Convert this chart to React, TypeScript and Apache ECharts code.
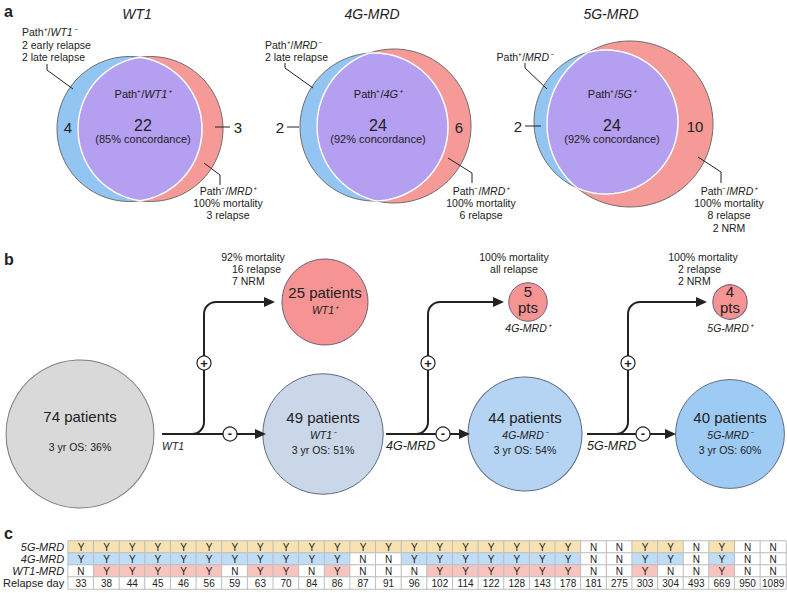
import React, { useEffect, useRef } from 'react';
import * as echarts from 'echarts';

const FONT = '"Liberation Sans", Arial, Helvetica, sans-serif';
const INK = '#222';

// ---------- Panel a data ----------
const vennTitles = ['WT1', '4G-MRD', '5G-MRD'];
const vennTags = ['WT1', '4G', '5G'];
const vennPathOnly = [4, 2, 2];
const vennBoth = [22, 24, 24];
const vennMrdOnly = [3, 6, 10];
const vennConcordance = [85, 92, 92];
const pathOnlyHeads = ['WT1', 'MRD', 'MRD'];
const pathOnlyNotes = [['2 early relapse', '2 late relapse'], ['2 late relapse'], []];
const mrdOnlyNotes = [
  ['100% mortality', '3 relapse'],
  ['100% mortality', '6 relapse'],
  ['100% mortality', '8 relapse', '2 NRM'],
];

// ---------- Panel b data ----------
const testNames = ['WT1', '4G-MRD', '5G-MRD'];
const stemPatients = [74, 49, 44, 40];
const stemOS = [36, 51, 54, 60];
const stemTags = ['', 'WT1', '4G-MRD', '5G-MRD'];
const posPatients = [25, 5, 4];
const posTags = ['WT1', '4G-MRD', '5G-MRD'];
const posNotes = [
  ['92% mortality', '16 relapse', '7 NRM'],
  ['100% mortality', 'all relapse'],
  ['100% mortality', '2 relapse', '2 NRM'],
];

// ---------- Panel c data ----------
const rowNames = ['5G-MRD', '4G-MRD', 'WT1-MRD', 'Relapse day'];
const relapseDays = [33, 38, 44, 45, 46, 56, 59, 63, 70, 84, 86, 87, 91, 96, 102, 114, 122, 128, 143, 178, 181, 275, 303, 304, 493, 669, 950, 1089];
const mrd5G = ['Y', 'Y', 'Y', 'Y', 'Y', 'Y', 'Y', 'Y', 'Y', 'Y', 'Y', 'Y', 'Y', 'Y', 'Y', 'Y', 'Y', 'Y', 'Y', 'Y', 'N', 'N', 'Y', 'Y', 'N', 'Y', 'N', 'N'];
const mrd4G = ['Y', 'Y', 'Y', 'Y', 'Y', 'Y', 'Y', 'Y', 'Y', 'Y', 'Y', 'N', 'N', 'Y', 'Y', 'Y', 'Y', 'Y', 'Y', 'Y', 'N', 'N', 'Y', 'Y', 'N', 'Y', 'N', 'N'];
const mrdWT1 = ['N', 'Y', 'Y', 'Y', 'Y', 'Y', 'N', 'Y', 'Y', 'N', 'Y', 'N', 'N', 'N', 'Y', 'Y', 'Y', 'Y', 'Y', 'Y', 'N', 'N', 'Y', 'N', 'N', 'Y', 'N', 'N'];

// ---------- layout / styles ----------
const BLUE = '#93c5f3';
const RED = '#f69a98';
const PURPLE = '#b59ff1';
const OUTLINE = '#6e6e6e';

const vennLayout = [
  {
    blue: [129.5, 129, 72.5], red: [150.5, 129, 72.5], title: [137, 14], cx: 143,
    only: [68, 127], onlyLine: null as null | number[], mrd: [238, 127], mrdLine: [215, 230] as null | number[],
    ul: { x: 22, align: 'left' }, leadUL: [[47, 64], [47, 70], [73, 89]],
    leadLR: [[204, 163], [220, 175], [220, 185]], lrX: 228,
  },
  {
    blue: [374, 127, 74], red: [394, 126, 77], title: [372, 14], cx: 378,
    only: [280, 127], onlyLine: [287, 299], mrd: [459, 127], mrdLine: null,
    ul: { x: 265, align: 'left' }, leadUL: [[285, 63], [285, 68], [313, 88]],
    leadLR: [[448, 158], [472, 173], [472, 183]], lrX: 481,
  },
  {
    blue: [606, 122, 72], red: [630, 124, 83], title: [611, 14], cx: 612,
    only: [518, 126], onlyLine: [525, 541], mrd: [695, 126], mrdLine: null,
    ul: { x: 553, align: 'right' }, leadUL: [[525, 63], [525, 68], [547, 89]],
    leadLR: [[698, 157], [721, 172], [721, 183]], lrX: 729,
  },
];

const K = 8.6; // px of radius per sqrt(patient)
const BY = 434;
const TY = 302;
const stemX = [80, 323, 525, 730];
const posX = [325, 528, 730];
const stemColors = ['#d9d9d9', '#c9d7e9', '#b5d3f2', '#9ecbf4'];
const POS_COLOR = '#f69494';
const junctions = [
  { x0: 162, xv: 204, minusX: 230, endB: 266, endT: 275, lab: 162, labSize: 10.5 },
  { x0: 386, xv: 428, minusX: 443, endB: 470, endT: 504, lab: 386, labSize: 12.5 },
  { x0: 587, xv: 628, minusX: 643, endB: 676, endT: 707, lab: 587, labSize: 12.5 },
];
const noteAnchors = [
  { cx: 253, lx: 232 },
  { cx: 514, lx: -1 },
  { cx: 703, lx: 678 },
];
const yesColors = ['#f8e2b2', '#bfddf6', '#f7c4bf'];

function txt(x: number, y: number, text: string, o: any = {}) {
  return {
    type: 'text', x, y, z: 20, silent: true,
    style: {
      text, fill: INK, fontFamily: FONT, fontSize: o.size ?? 10.5,
      fontStyle: o.italic ? 'italic' : 'normal', fontWeight: o.bold ? 'bold' : 'normal',
      align: o.align ?? 'center', verticalAlign: 'middle',
      rich: {
        i: { fontStyle: 'italic', fontSize: o.size ?? 10.5, fontFamily: FONT, fill: INK },
      },
    },
  };
}
function pl(points: number[][], w = 1, z = 15) {
  return { type: 'polyline', z, silent: true, shape: { points }, style: { stroke: INK, lineWidth: w, fill: null } };
}
function lens(A: number[], B: number[]) {
  const [ax, ay, ra] = A; const [bx, by, rb] = B;
  const dx = bx - ax, dy = by - ay; const d = Math.hypot(dx, dy);
  const phi = Math.atan2(dy, dx);
  const a = (ra * ra - rb * rb + d * d) / (2 * d);
  const alpha = Math.acos(Math.max(-1, Math.min(1, a / ra)));
  const beta = Math.acos(Math.max(-1, Math.min(1, (d - a) / rb)));
  const pts: number[][] = [];
  const N = 80;
  for (let k = 0; k <= N; k++) {
    const t = phi - alpha + (2 * alpha * k) / N;
    pts.push([ax + ra * Math.cos(t), ay + ra * Math.sin(t)]);
  }
  for (let k = 0; k <= N; k++) {
    const t = phi + Math.PI - beta + (2 * beta * k) / N;
    pts.push([bx + rb * Math.cos(t), by + rb * Math.sin(t)]);
  }
  return pts;
}

function buildGraphics() {
  const g: any[] = [];
  g.push(txt(4, 11, 'a', { size: 16, bold: true, align: 'left' }));
  g.push(txt(4, 259, 'b', { size: 16, bold: true, align: 'left' }));
  g.push(txt(4, 533, 'c', { size: 16, bold: true, align: 'left' }));

  vennLayout.forEach((L, i) => {
    const [bx, by, br] = L.blue; const [rx, ry, rr] = L.red;
    g.push({ type: 'circle', z: 5, silent: true, shape: { cx: bx, cy: by, r: br }, style: { fill: BLUE, stroke: OUTLINE, lineWidth: 1 } });
    g.push({ type: 'circle', z: 6, silent: true, shape: { cx: rx, cy: ry, r: rr }, style: { fill: RED, stroke: OUTLINE, lineWidth: 1 } });
    g.push({ type: 'polygon', z: 7, silent: true, shape: { points: lens(L.blue, L.red) }, style: { fill: PURPLE, stroke: '#ffffff', lineWidth: 1.5 } });
    g.push(txt(L.title[0], L.title[1], vennTitles[i], { size: 14, italic: true }));
    g.push(txt(L.cx, 94, `Path⁺/{i|${vennTags[i]}⁺}`, { size: 11 }));
    g.push(txt(L.cx, 125, String(vennBoth[i]), { size: 16 }));
    g.push(txt(L.cx, 139, `(${vennConcordance[i]}% concordance)`, { size: 11 }));
    g.push(txt(L.only[0], L.only[1], String(vennPathOnly[i]), { size: 15 }));
    if (L.onlyLine) g.push(pl([[L.onlyLine[0], L.only[1]], [L.onlyLine[1], L.only[1]]]));
    g.push(txt(L.mrd[0], L.mrd[1], String(vennMrdOnly[i]), { size: 15 }));
    if (L.mrdLine) g.push(pl([[L.mrdLine[0], L.mrd[1]], [L.mrdLine[1], L.mrd[1]]]));
    const ulLines = [`Path⁺/{i|${pathOnlyHeads[i]}⁻}`, ...pathOnlyNotes[i]];
    ulLines.forEach((s, k) => {
      g.push(txt(L.ul.x, 57 - (ulLines.length - 1 - k) * 12.5, s, { size: 10.5, align: L.ul.align }));
    });
    g.push(pl(L.leadUL));
    const lrLines = ['Path⁻/{i|MRD⁺}', ...mrdOnlyNotes[i]];
    lrLines.forEach((s, k) => g.push(txt(L.lrX, 191 + k * 12.2, s, { size: 10.5 })));
    g.push(pl(L.leadLR));
  });

  const R = 12;
  junctions.forEach((J, i) => {
    const W = 2;
    g.push(pl([[J.x0, BY], [J.endB - 8, BY]], W, 12));
    g.push({ type: 'polygon', z: 12, silent: true, shape: { points: [[J.endB, BY], [J.endB - 11, BY - 5], [J.endB - 11, BY + 5]] }, style: { fill: INK } });
    g.push({ type: 'arc', z: 12, silent: true, shape: { cx: J.xv - R, cy: BY - R, r: R, startAngle: 0, endAngle: Math.PI / 2, clockwise: true }, style: { stroke: INK, lineWidth: W, fill: null } });
    g.push(pl([[J.xv, BY - R], [J.xv, TY + R]], W, 12));
    g.push({ type: 'arc', z: 12, silent: true, shape: { cx: J.xv + R, cy: TY + R, r: R, startAngle: Math.PI, endAngle: Math.PI * 1.5, clockwise: true }, style: { stroke: INK, lineWidth: W, fill: null } });
    g.push(pl([[J.xv + R, TY], [J.endT - 8, TY]], W, 12));
    g.push({ type: 'polygon', z: 12, silent: true, shape: { points: [[J.endT, TY], [J.endT - 11, TY - 5], [J.endT - 11, TY + 5]] }, style: { fill: INK } });
    g.push({ type: 'circle', z: 13, silent: true, shape: { cx: J.xv, cy: 363, r: 7 }, style: { fill: '#fff', stroke: INK, lineWidth: 1.2 } });
    g.push(txt(J.xv, 363, '+', { size: 13, bold: true }));
    g.push({ type: 'circle', z: 13, silent: true, shape: { cx: J.minusX, cy: BY, r: 7 }, style: { fill: '#fff', stroke: INK, lineWidth: 1.2 } });
    g.push(txt(J.minusX, BY - 1, '-', { size: 13, bold: true }));
    g.push(txt(J.lab, BY + 12, testNames[i], { size: J.labSize, italic: true, align: 'left' }));
  });

  posNotes.forEach((lines, i) => {
    const A = noteAnchors[i];
    lines.forEach((s, k) => {
      if (k === 0 || A.lx < 0) g.push(txt(A.cx, 257 + k * 12, s, { size: 10.5 }));
      else g.push(txt(A.lx, 257 + k * 12, s, { size: 10.5, align: 'left' }));
    });
    if (i > 0) g.push(txt(posX[i], 328, `${posTags[i]}⁺`, { size: 10.5, italic: true }));
  });
  return g;
}

function buildOption() {
  const stemData = stemPatients.map((n, i) => ({
    value: [stemX[i], BY],
    symbolSize: 2 * K * Math.sqrt(n),
    itemStyle: { color: stemColors[i], borderColor: i === 0 ? '#7c7c7c' : '#5f6a82', borderWidth: 1, opacity: 1 },
    label: {
      show: true, position: 'inside',
      offset: [0, i === 0 ? -3.5 : -1.5],
      formatter: i === 0
        ? `{b|${n} patients}\n{g| }\n{s|3 yr OS: ${stemOS[i]}%}`
        : `{b|${n} patients}\n{t|${stemTags[i]}⁻}\n{s|3 yr OS: ${stemOS[i]}%}`,
    },
  }));
  const posData = posPatients.map((n, i) => ({
    value: [posX[i], TY],
    symbolSize: 2 * K * Math.sqrt(n),
    itemStyle: { color: POS_COLOR, borderColor: '#6a5f7a', borderWidth: 1, opacity: 1 },
    label: {
      show: true, position: 'inside',
      offset: [0, i === 0 ? -2.5 : -3],
      formatter: i === 0 ? `{b|${n} patients}\n{t|${posTags[i]}⁺}` : `{m|${n}}\n{m|pts}`,
    },
  }));
  const nodeRich = {
    b: { fontSize: 15, lineHeight: 20, color: INK, fontFamily: FONT },
    t: { fontSize: 10.5, lineHeight: 15, color: INK, fontFamily: FONT, fontStyle: 'italic' },
    s: { fontSize: 10.5, lineHeight: 16, color: INK, fontFamily: FONT },
    g: { fontSize: 6, lineHeight: 13, color: INK },
    m: { fontSize: 15, lineHeight: 16, color: INK, fontFamily: FONT },
  };

  // colour code per cell: 0 = white, 1..3 = "Y" in row 0..2
  const heatData: any[] = [];
  [mrd5G, mrd4G, mrdWT1].forEach((row, r) =>
    row.forEach((f, c) => heatData.push({ value: [c, r, f === 'Y' ? r + 1 : 0], txt: f })),
  );
  relapseDays.forEach((d, c) => heatData.push({ value: [c, 3, 0], txt: String(d) }));

  return {
    animation: false,
    textStyle: { fontFamily: FONT },
    grid: [
      { left: 0, top: 0, right: 0, bottom: 0 },
      { left: 68, top: 541, width: 718, height: 48 },
    ],
    xAxis: [
      { gridIndex: 0, type: 'value', min: 0, max: 787, show: false },
      { gridIndex: 1, type: 'category', data: relapseDays.map(String), show: false },
    ],
    yAxis: [
      { gridIndex: 0, type: 'value', min: 0, max: 593, inverse: true, show: false },
      {
        gridIndex: 1, type: 'category', data: rowNames, inverse: true,
        axisLine: { show: false }, axisTick: { show: false }, splitLine: { show: false },
        axisLabel: {
          margin: 4, interval: 0, hideOverlap: false,
          formatter: (v: string) => (v === 'Relapse day' ? `{n|${v}}` : `{i|${v}}`),
          rich: {
            n: { fontSize: 11, color: INK, fontFamily: FONT },
            i: { fontSize: 11, color: INK, fontFamily: FONT, fontStyle: 'italic' },
          },
        },
      },
    ],
    visualMap: {
      type: 'piecewise', show: false, seriesIndex: 1, dimension: 2,
      pieces: [
        { value: 0, color: '#ffffff' },
        { value: 1, color: yesColors[0] },
        { value: 2, color: yesColors[1] },
        { value: 3, color: yesColors[2] },
      ],
    },
    graphic: { elements: buildGraphics() },
    series: [
      {
        type: 'scatter', xAxisIndex: 0, yAxisIndex: 0, symbol: 'circle', z: 3,
        data: [...stemData, ...posData],
        itemStyle: { opacity: 1 },
        label: { rich: nodeRich, color: INK },
        emphasis: { disabled: true },
        silent: true,
      },
      {
        type: 'heatmap', xAxisIndex: 1, yAxisIndex: 1,
        data: heatData,
        itemStyle: { borderColor: '#bdbdbd', borderWidth: 1 },
        label: { show: true, formatter: (p: any) => p.data.txt, fontSize: 10, color: INK, fontFamily: FONT },
        emphasis: { disabled: true },
        silent: true,
      },
    ],
  };
}

export default function App() {
  const ref = useRef<HTMLDivElement>(null);
  useEffect(() => {
    document.body.style.margin = '0';
    const chart = echarts.init(ref.current!, null, { renderer: 'svg' });
    chart.setOption(buildOption() as any);
    return () => chart.dispose();
  }, []);
  return <div ref={ref} style={{ width: 787, height: 593 }} />;
}
